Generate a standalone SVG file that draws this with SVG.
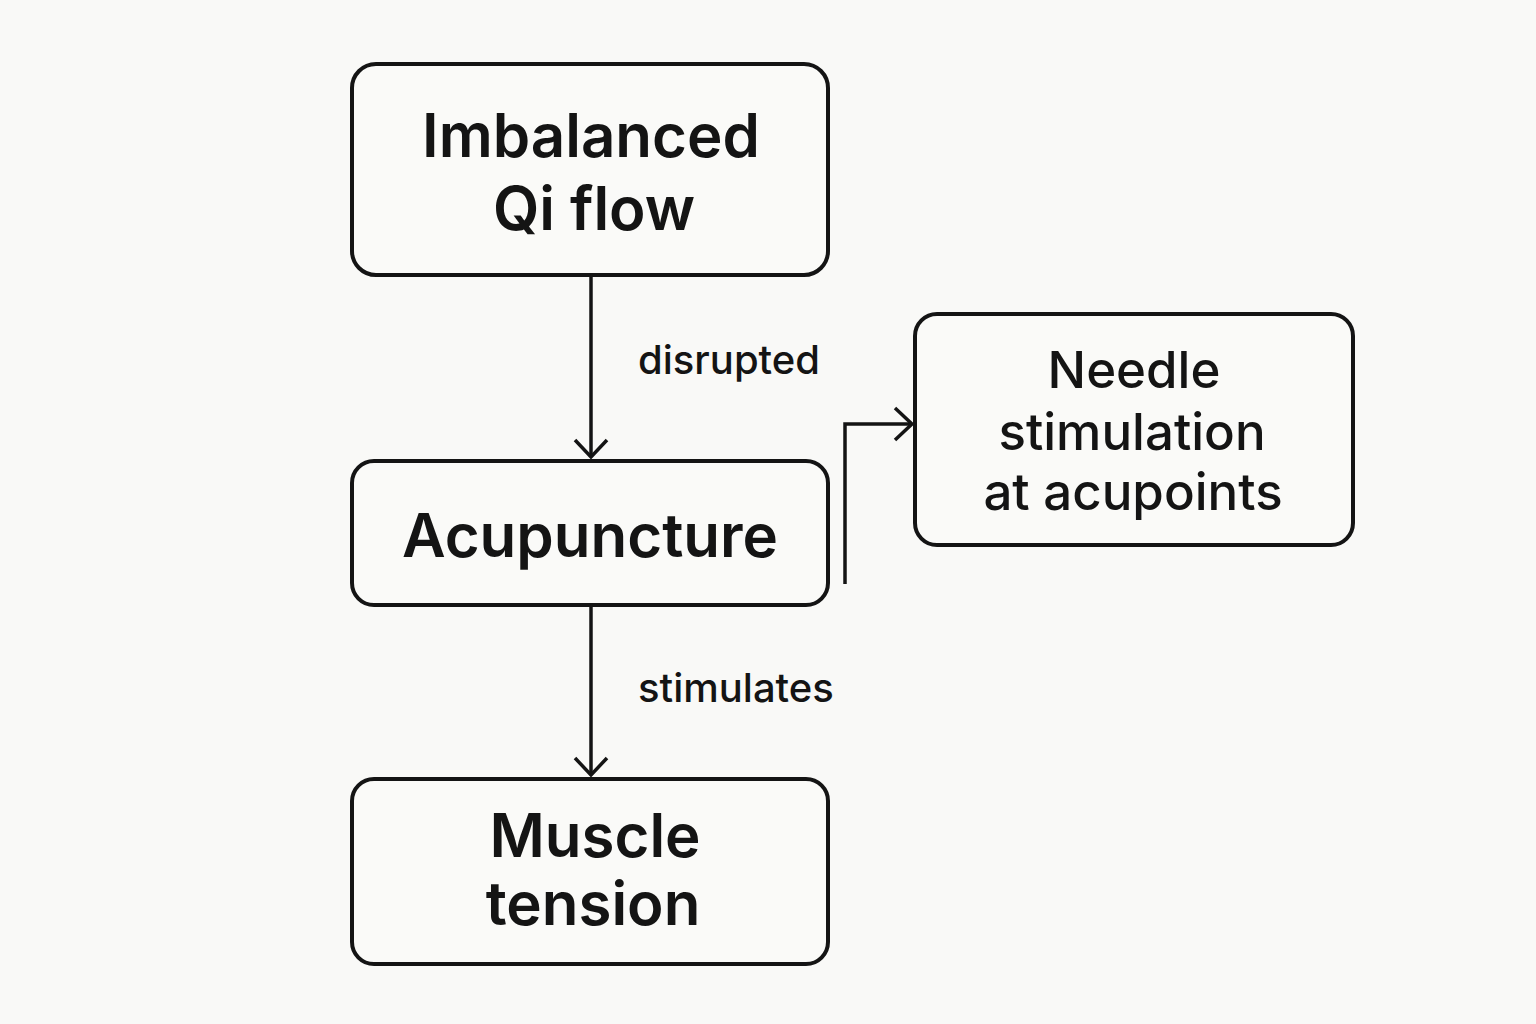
<svg xmlns="http://www.w3.org/2000/svg" width="1536" height="1024" viewBox="0 0 1536 1024">
<defs>
<style>
.box{fill:#fafaf8;stroke:#141414;stroke-width:4}
.t{font-family:Inter,"Liberation Sans",sans-serif;fill:#141414;text-anchor:middle}
.big{font-size:60px;font-weight:600}
.mid{font-size:51px;font-weight:500}
.lbl{font-family:Inter,"Liberation Sans",sans-serif;fill:#141414;font-size:40px;font-weight:500}
.edge{fill:none;stroke:#141414;stroke-width:3.5}
</style>
<marker id="arr" viewBox="0 0 40 40" refX="36" refY="20" markerWidth="40" markerHeight="40" markerUnits="userSpaceOnUse" orient="auto">
<path d="M19,4 L36,20 L19,36" fill="none" stroke="#141414" stroke-width="3.5"/>
</marker>
</defs>
<rect width="1536" height="1024" fill="#f9f9f7"/>
<g id="connectors">
<path class="edge" d="M591,276 V457" marker-end="url(#arr)"/>
<path class="edge" d="M591,606 V775" marker-end="url(#arr)"/>
<path class="edge" d="M845,584 V424 H912" marker-end="url(#arr)"/>
<text class="lbl" x="638" y="374">disrupted</text>
<text class="lbl" x="638" y="702">stimulates</text>
</g>
<g id="node-qi">
<rect class="box" x="352" y="64" width="476" height="211" rx="24"/>
<text class="t big" x="591" y="157">Imbalanced</text>
<text class="t big" x="594" y="230">Qi flow</text>
</g>
<g id="node-acu">
<rect class="box" x="352" y="461" width="476" height="144" rx="22"/>
<text class="t big" x="590" y="557">Acupuncture</text>
</g>
<g id="node-needle">
<rect class="box" x="915" y="314" width="438" height="231" rx="22"/>
<text class="t mid" x="1134" y="388">Needle</text>
<text class="t mid" x="1132" y="450">stimulation</text>
<text class="t mid" x="1133" y="510">at acupoints</text>
</g>
<g id="node-muscle">
<rect class="box" x="352" y="779" width="476" height="185" rx="22"/>
<text class="t big" x="595" y="857">Muscle</text>
<text class="t big" x="593" y="925">tension</text>
</g>
</svg>
